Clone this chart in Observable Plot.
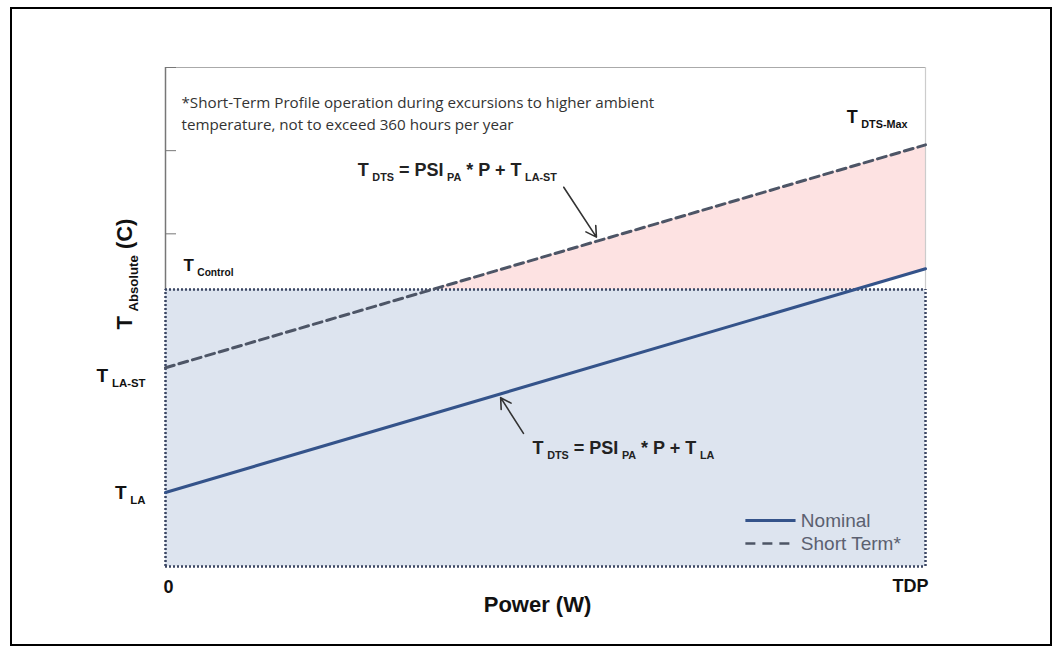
<!DOCTYPE html>
<html><head><meta charset="utf-8">
<script src="https://cdn.jsdelivr.net/npm/d3@7"></script>
<script src="https://cdn.jsdelivr.net/npm/@observablehq/plot@0.6"></script>
<style>
body{margin:0;background:#fff;}
#wrap{position:relative;width:1061px;height:656px;overflow:hidden;}
#border{position:absolute;left:10px;top:7px;width:1038px;height:635px;border:2.5px solid #000;pointer-events:none;}
</style></head><body>
<div id="wrap"><div id="chart"></div><div id="border"></div></div>
<script>
// ---- data ----
const power = [0, 1];                 // 0 .. TDP (fraction of TDP)
const nominal = [0.89, 3.58];         // T_DTS nominal
const shortTerm = [2.39, 5.07];       // T_DTS short term
const tControl = 3.33;
const yTicks = [4, 5, 6];
const xTickLabels = ["0", "TDP"];
const note = "*Short-Term Profile operation during excursions to higher ambient\ntemperature, not to exceed 360 hours per year";
const equations = [
  {label: "T_{DTS} = PSI_{PA} * P + T_{LA-ST}", p: 0.253, t: 4.76},
  {label: "T_{DTS} = PSI_{PA} * P + T_{LA}", p: 0.483, t: 1.42}
];
const arrows = [
  {p1: 0.524, t1: 4.56, p2: 0.567, t2: 3.96},
  {p1: 0.471, t1: 1.60, p2: 0.441, t2: 2.03}
];
const legendItems = [
  {name: "Nominal", p1: 0.763, p2: 0.829, pt: 0.836, t: 0.553},
  {name: "Short Term*", p1: 0.763, p2: 0.829, pt: 0.836, t: 0.277}
];

// ---- derived ----
const lerp = (arr, p) => arr[0] + (arr[1] - arr[0]) * p;
const pCross = arr => (tControl - arr[0]) / (arr[1] - arr[0]);
const pinkRows = [pCross(shortTerm), pCross(nominal), power[1]].map(p => ({
  p, lo: Math.max(tControl, lerp(nominal, p)), hi: lerp(shortTerm, p)
}));
const rowsOf = arr => power.map((p, i) => ({p, t: arr[i]}));

const NAVY = "#34538a", DASH = "#4d5566", DOT = "#3b4663";
const bold = {fontWeight: "bold", fill: "#111"};

const chart = Plot.plot({
  width: 1061, height: 656,
  marginLeft: 165, marginRight: 136, marginTop: 67, marginBottom: 90,
  x: {domain: [power[0], power[1]], axis: null},
  y: {domain: [0, 6], axis: null},
  style: {fontFamily: "'Liberation Sans', Arial, sans-serif", background: "transparent"},
  marks: [
    Plot.rectY([tControl], {x1: power[0], x2: power[1], y1: 0, y2: d => d, fill: "#dde4ef"}),
    Plot.areaY(pinkRows, {x: "p", y1: "lo", y2: "hi", fill: "#fde2e2"}),
    // frame
    Plot.ruleY([6], {stroke: "#aaa", strokeWidth: 1.2}),
    Plot.ruleX([power[0]], {y1: tControl, y2: 6, stroke: "#777", strokeWidth: 1.5}),
    Plot.ruleX([power[1]], {y1: tControl, y2: 6, stroke: "#ccc", strokeWidth: 1.2}),
    Plot.axisY({ticks: yTicks, tickSize: -11, tickFormat: () => "", stroke: "#777"}),
    Plot.ruleX(power, {y1: 0, y2: tControl, stroke: DOT, strokeWidth: 2.5, strokeDasharray: "2,2"}),
    Plot.ruleY([0, tControl], {x1: power[0], x2: power[1], stroke: DOT, strokeWidth: 2.5, strokeDasharray: "2,2"}),
    // lines
    Plot.line(rowsOf(nominal), {x: "p", y: "t", stroke: NAVY, strokeWidth: 3}),
    Plot.line(rowsOf(shortTerm), {x: "p", y: "t", stroke: DASH, strokeWidth: 3, strokeDasharray: "9,5"}),
    // axis labels
    Plot.text([{t: nominal[0], label: "T_{LA}"}], {x: power[0], y: "t", text: "label", textAnchor: "end", dx: -20, dy: 0, fontSize: 19, ...bold}),
    Plot.text([{t: shortTerm[0], label: "T_{LA-ST}"}], {x: power[0], y: "t", text: "label", textAnchor: "end", dx: -20, dy: 8, fontSize: 19, ...bold}),
    Plot.text([tControl], {x: power[0], y: d => d, text: () => "T_{Control}", textAnchor: "start", dx: 18, dy: -24, fontSize: 17, ...bold}),
    Plot.text(["T_{DTS-Max}"], {frameAnchor: "top-right", textAnchor: "end", lineAnchor: "middle", dx: -18, dy: 50, fontSize: 18, ...bold}),
    Plot.text([xTickLabels[0]], {x: power[0], frameAnchor: "bottom", textAnchor: "start", lineAnchor: "middle", dx: -2, dy: 21, fontSize: 18, ...bold}),
    Plot.text([xTickLabels[1]], {x: power[1], frameAnchor: "bottom", textAnchor: "end", lineAnchor: "middle", dx: 3, dy: 20, fontSize: 18, ...bold}),
    Plot.text(["Power (W)"], {frameAnchor: "bottom", textAnchor: "middle", lineAnchor: "middle", dx: -8, dy: 38, fontSize: 22, ...bold}),
    Plot.text(["T_{Absolute} (C)"], {frameAnchor: "left", rotate: -90, textAnchor: "middle", lineAnchor: "middle", dx: -41, dy: -43, fontSize: 22, ...bold}),
    // note
    Plot.text([note], {frameAnchor: "top-left", textAnchor: "start", lineAnchor: "top", dx: 16, dy: 25, fontSize: 15.2, lineHeight: 1.45, fontFamily: "'Open Sans', sans-serif", fill: "#333"}),
    // equations + arrows
    Plot.text(equations, {x: "p", y: "t", text: "label", textAnchor: "start", fontSize: 18, ...bold, fill: "#222"}),
    Plot.arrow(arrows, {x1: "p1", y1: "t1", x2: "p2", y2: "t2", stroke: "#333", strokeWidth: 1.6, headLength: 11}),
    // legend
    Plot.link(legendItems.slice(0, 1), {x1: "p1", x2: "p2", y1: "t", y2: "t", stroke: NAVY, strokeWidth: 3}),
    Plot.link(legendItems.slice(1), {x1: "p1", x2: "p2", y1: "t", y2: "t", stroke: DASH, strokeWidth: 2.5, strokeDasharray: "10,7"}),
    Plot.text(legendItems, {x: "pt", y: "t", text: "name", textAnchor: "start", fontSize: 19, fill: "#5b6070"})
  ]
});
document.getElementById("chart").appendChild(chart);

// subscripts: "X_{sub}" -> tspans
const NS = "http://www.w3.org/2000/svg";
chart.querySelectorAll("text").forEach(t => {
  const s = t.textContent;
  if (!s.includes("_{")) return;
  const fs = parseFloat(getComputedStyle(t).fontSize);
  const shift = fs * 0.28;
  const parts = s.split(/_\{([^}]*)\}/);
  t.textContent = "";
  let lowered = false;
  parts.forEach((p, i) => {
    if (!p) return;
    const ts = document.createElementNS(NS, "tspan");
    ts.textContent = p;
    if (i % 2 === 1) {
      ts.setAttribute("font-size", (fs * 0.6).toFixed(1));
      ts.setAttribute("dy", shift.toFixed(1));
      ts.setAttribute("dx", (fs * 0.2).toFixed(1));
      lowered = true;
    } else if (lowered) {
      ts.setAttribute("dy", (-shift).toFixed(1));
      lowered = false;
    }
    t.appendChild(ts);
  });
});
</script>
</body></html>
